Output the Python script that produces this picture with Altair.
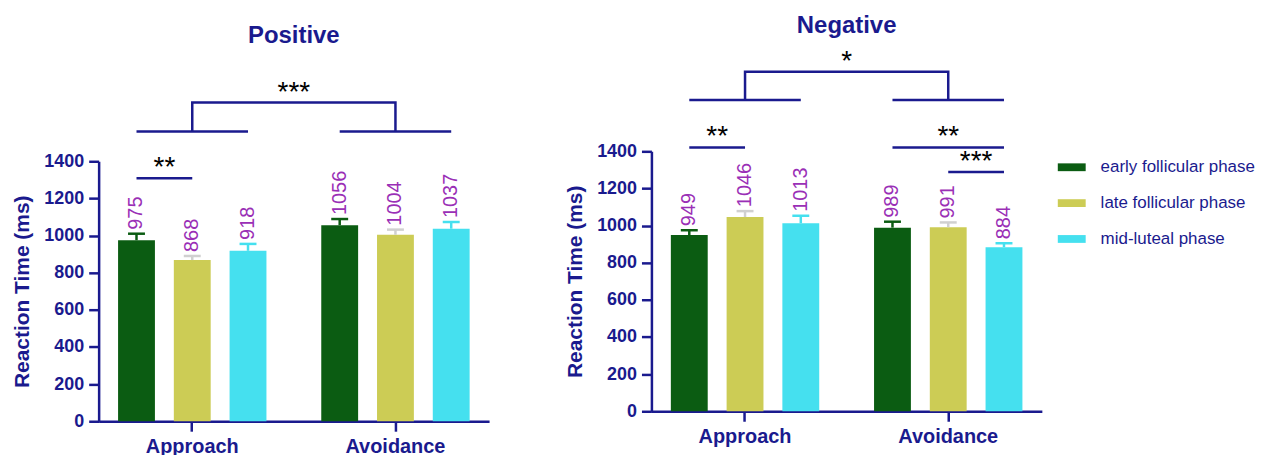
import altair as alt
import pandas as pd

# ---------------- data ----------------
conditions = ["Approach", "Avoidance"]
phases = ["early follicular phase", "late follicular phase", "mid-luteal phase"]

pos_means = [975, 868, 918, 1056, 1004, 1037]
pos_sem = [35, 22, 37, 33, 28, 36]
neg_means = [949, 1046, 1013, 989, 991, 884]
neg_sem = [26, 32, 40, 32, 26, 21]

# pairwise comparisons: (condition, first phase index, second phase index, bracket height, label)
pos_pairs = [("Approach", 0, 1, 1309, "**")]
neg_pairs = [("Approach", 0, 1, 1421, "**"),
             ("Avoidance", 0, 2, 1421, "**"),
             ("Avoidance", 1, 2, 1289, "***")]
# main effect bracket: (lower height, upper height, label)
pos_main = (1561, 1716, "***")
neg_main = (1676, 1829, "*")

panel_titles = ["Positive", "Negative"]
title_level = 2074
y_ticks = [0, 200, 400, 600, 800, 1000, 1200, 1400]

# ---------------- style ----------------
NAVY = "#1a1a8e"
PURPLE = "#9a2fb6"
FONT = "Liberation Sans"
bar_colors = ["#0b5c12", "#cccc55", "#45e0ef"]
err_colors = ["#0b5c12", "#d0d0d0", "#45e0ef"]

W = 392
H = 261
PI_X, PO_X = 0.1765, 0.049
PI_O, PO_O = 0.339, 0.17
step_x = W / (len(conditions) - PI_X + 2 * PO_X)
band_x = step_x * (1 - PI_X)
step_o = band_x / (len(phases) - PI_O + 2 * PO_O)
YT = "Reaction Time (ms)"

LEGEND = alt.Legend(
    title=None, orient="none", legendX=963, legendY=2, padding=0,
    symbolType="M-1,-0.28L1,-0.28L1,0.28L-1,0.28Z", symbolSize=784,
    symbolStrokeWidth=0, symbolOpacity=1, labelOffset=15, rowPadding=14,
    labelFont=FONT, labelFontSize=17, labelColor=NAVY,
)


def panel(means, sems, pairs, main, title, shift):
    df = pd.DataFrame({
        "cond": [c for c in conditions for _ in phases],
        "phase": [p for _ in conditions for p in phases],
        "mean": means,
        "sem": sems,
    })
    df["top"] = df["mean"] + df["sem"]

    height = H + shift
    yscale = alt.Scale(domain=[0, 1400], range=[height, shift], nice=False)
    xscale = alt.Scale(domain=conditions, paddingInner=PI_X, paddingOuter=PO_X)
    oscale = alt.Scale(domain=phases, paddingInner=PI_O, paddingOuter=PO_O)
    X = alt.X("cond:N", scale=xscale, sort=conditions,
              axis=alt.Axis(title=None, labelAngle=0, labelFontSize=20, labelPadding=5,
                            labelFontWeight="bold", labelFont=FONT, labelColor=NAVY))
    XO = alt.XOffset("phase:N", scale=oscale, sort=phases)

    def Y(field):
        return alt.Y(field, scale=yscale, title=YT,
                     axis=alt.Axis(values=y_ticks, format="d", labelPadding=5, titlePadding=11,
                                   labelFontSize=18, labelFontWeight="bold", labelFont=FONT,
                                   labelColor=NAVY, titleFontSize=21, titleFontWeight="bold",
                                   titleFont=FONT, titleColor=NAVY))

    base = alt.Chart(df)
    bars = base.mark_bar().encode(
        x=X, xOffset=XO, y=Y("mean:Q"),
        color=alt.Color("phase:N", sort=phases,
                        scale=alt.Scale(domain=phases, range=bar_colors),
                        legend=LEGEND),
    )
    ecol = alt.Scale(domain=phases, range=err_colors)
    err = base.mark_rule(strokeWidth=2.5).encode(
        x=X, xOffset=XO, y=Y("mean:Q"), y2="top:Q",
        stroke=alt.Stroke("phase:N", scale=ecol, legend=None),
    )
    caps = base.mark_tick(thickness=2.5, size=17, opacity=1).encode(
        x=X, xOffset=XO, y=Y("top:Q"),
        fill=alt.Fill("phase:N", scale=ecol, legend=None),
    )
    labels = base.mark_text(angle=270, align="left", baseline="middle", dx=4,
                            fontSize=20, font=FONT, color=PURPLE).encode(
        x=X, xOffset=XO, y=Y("top:Q"), text=alt.Text("mean:Q"),
    )

    # significance lines
    rows = []
    for gid, (cond, i, j, h, lab) in enumerate(pairs):
        rows.append(dict(g=f"p{gid}", k=0, cond=cond, phase=phases[i], y=h))
        rows.append(dict(g=f"p{gid}", k=1, cond=cond, phase=phases[j], y=h))
    lo, hi, mlab = main
    for cond in conditions:
        rows.append(dict(g="m" + cond, k=0, cond=cond, phase=phases[0], y=lo))
        rows.append(dict(g="m" + cond, k=1, cond=cond, phase=phases[-1], y=lo))
    midp = phases[len(phases) // 2]
    rows += [dict(g="top", k=0, cond=conditions[0], phase=midp, y=lo),
             dict(g="top", k=1, cond=conditions[0], phase=midp, y=hi),
             dict(g="top", k=2, cond=conditions[1], phase=midp, y=hi),
             dict(g="top", k=3, cond=conditions[1], phase=midp, y=lo)]
    lines = alt.Chart(pd.DataFrame(rows)).mark_line(color=NAVY, strokeWidth=2.5).encode(
        x=X, xOffset=XO, y=Y("y:Q"), detail="g:N", order="k:Q",
    )

    layers = [bars, err, caps, labels, lines]

    star_style = dict(fontSize=28, font=FONT, color="black", baseline="alphabetic", dy=-2)
    centered, halfway = [], []
    for (cond, i, j, h, lab) in pairs:
        if (i + j) % 2 == 0:
            centered.append(dict(cond=cond, phase=phases[(i + j) // 2], y=h, label=lab))
        else:
            halfway.append(dict(cond=cond, phase=phases[(i + j + 1) // 2], y=h, label=lab))
    if centered:
        layers.append(alt.Chart(pd.DataFrame(centered)).mark_text(**star_style).encode(
            x=X, xOffset=XO, y=Y("y:Q"), text="label:N"))
    if halfway:
        layers.append(alt.Chart(pd.DataFrame(halfway)).mark_text(dx=-step_o / 2, **star_style).encode(
            x=X, xOffset=XO, y=Y("y:Q"), text="label:N"))
    main_df = pd.DataFrame([dict(cond=conditions[0], phase=midp, y=hi, label=mlab)])
    layers.append(alt.Chart(main_df).mark_text(dx=step_x / 2, **star_style).encode(
        x=X, xOffset=XO, y=Y("y:Q"), text="label:N"))
    title_df = pd.DataFrame([dict(cond=conditions[0], phase=midp, y=title_level, label=title)])
    layers.append(alt.Chart(title_df).mark_text(
        dx=step_x / 2, fontSize=24, fontWeight="bold", font=FONT, color=NAVY, baseline="middle").encode(
        x=X, xOffset=XO, y=Y("y:Q"), text="label:N"))

    return alt.layer(*layers).properties(width=W, height=height)


left = panel(pos_means, pos_sem, pos_pairs, pos_main, panel_titles[0], 10)
right = panel(neg_means, neg_sem, neg_pairs, neg_main, panel_titles[1], 0)

chart = alt.hconcat(left, right, spacing=75).resolve_scale(
    x="independent", y="independent", xOffset="independent", color="shared"
).properties(
    padding={"left": 3, "top": 5, "right": 0, "bottom": 0}
).configure_view(stroke=None).configure_axis(
    domainColor=NAVY, domainWidth=2.5, tickColor=NAVY, tickWidth=2.5, tickSize=10, grid=False,
)

chart.save("out.html", embed_options={"renderer": "svg", "actions": False})
